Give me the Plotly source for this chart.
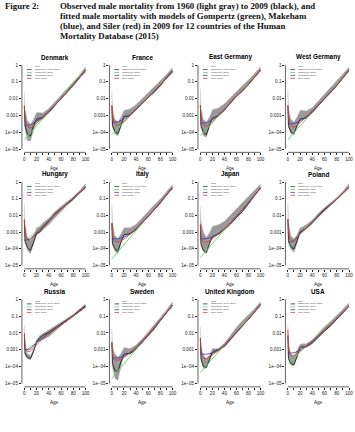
import plotly.graph_objects as go

W, H = 355, 432

# ---------------- data ----------------
COUNTRIES = ["Denmark", "France", "East Germany", "West Germany",
             "Hungary", "Italy", "Japan", "Poland",
             "Russia", "Sweden", "United Kingdom", "USA"]

OBS_AGES = [0, 1, 5, 10, 15, 20, 25, 30, 40, 50, 60, 70, 80, 90, 100]
FIT_AGES = [0, 1, 3, 6, 10, 20, 30, 40, 50, 60, 80, 100]
GOMP_AGES = [0, 100]

Y_TICKS = [1e-5, 1e-4, 1e-3, 1e-2, 1e-1, 1]
Y_TICKTEXT = ["1e\u221205", "1e\u221204", "0.001", "0.01", "0.1", "1"]
X_TICKS = [0, 10, 20, 30, 40, 50, 60, 70, 80, 90, 100]
X_TICKTEXT = ["0", "", "20", "", "40", "", "60", "", "80", "", "100"]

LEGEND_LABELS = ["Observed, 1960\u20132009", "Gompertz, 2009", "Makeham, 2009", "Siler, 2009"]

# Denmark
DK_OBS = [3.5e-3, 2.5e-4, 8e-5, 6e-5, 2.5e-4, 6e-4, 7e-4, 7e-4, 1.5e-3, 4e-3, 1.0e-2, 2.6e-2, 7e-2, 0.19, 0.5]
DK_LO = [3e-3, 1.5e-4, 3e-5, 3e-5, 1.2e-4, 4e-4, 5e-4, 6e-4, 1.4e-3, 3.8e-3, 9.5e-3, 2.5e-2, 6.5e-2, 0.17, 0.35]
DK_HI = [2.5e-2, 2e-3, 5e-4, 3e-4, 6e-4, 1.5e-3, 1.5e-3, 1.4e-3, 2.6e-3, 6.5e-3, 1.6e-2, 4e-2, 9.5e-2, 0.25, 0.8]
DK_GOMP = [3.5e-5, 0.55]
DK_MAK = [2.6e-4, 2.6e-4, 2.6e-4, 2.6e-4, 2.7e-4, 4.5e-4, 8.5e-4, 1.8e-3, 4.2e-3, 1.0e-2, 6e-2, 0.5]
DK_SIL = [4e-3, 1.1e-3, 3.2e-4, 2e-4, 1.8e-4, 3.4e-4, 7.5e-4, 1.7e-3, 4.1e-3, 1.0e-2, 6e-2, 0.5]

# France
FR_OBS = [3.8e-3, 2.5e-4, 1.1e-4, 8e-5, 2.5e-4, 8.5e-4, 9e-4, 1e-3, 2.2e-3, 5.5e-3, 1.2e-2, 2.4e-2, 6e-2, 0.18, 0.45]
FR_LO = [3.5e-3, 2e-4, 8e-5, 6e-5, 2e-4, 7e-4, 8.5e-4, 9.5e-4, 2.1e-3, 5.3e-3, 1.15e-2, 2.3e-2, 5.8e-2, 0.17, 0.38]
FR_HI = [3e-2, 2.5e-3, 6e-4, 4e-4, 8e-4, 2e-3, 2.2e-3, 2.5e-3, 4.5e-3, 1.0e-2, 2.2e-2, 5e-2, 0.11, 0.27, 0.7]
FR_GOMP = [7e-5, 0.4]
FR_MAK = [4e-4, 4e-4, 4e-4, 4e-4, 4.1e-4, 6e-4, 1.1e-3, 2.3e-3, 5e-3, 1.15e-2, 6.5e-2, 0.4]
FR_SIL = [4e-3, 1.2e-3, 4e-4, 2.8e-4, 2.6e-4, 4.5e-4, 1e-3, 2.2e-3, 5e-3, 1.15e-2, 6.5e-2, 0.4]

# East Germany
EG_OBS = [4e-3, 2.5e-4, 1e-4, 7e-5, 2.5e-4, 7e-4, 8e-4, 1e-3, 2e-3, 6e-3, 1.4e-2, 2.8e-2, 7e-2, 0.2, 0.5]
EG_LO = [3.5e-3, 2e-4, 6e-5, 5e-5, 1.8e-4, 6e-4, 7e-4, 9e-4, 1.9e-3, 5.5e-3, 1.3e-2, 2.7e-2, 6.5e-2, 0.18, 0.4]
EG_HI = [4e-2, 2.5e-3, 6e-4, 4e-4, 8e-4, 2.2e-3, 2.5e-3, 2.8e-3, 5e-3, 1.2e-2, 2.8e-2, 6e-2, 0.13, 0.3, 0.8]
EG_GOMP = [6e-5, 0.5]
EG_MAK = [3.5e-4, 3.5e-4, 3.5e-4, 3.5e-4, 3.6e-4, 5.5e-4, 1.1e-3, 2.3e-3, 5.5e-3, 1.35e-2, 7e-2, 0.5]
EG_SIL = [4e-3, 1.2e-3, 3.5e-4, 2.5e-4, 2.3e-4, 4.5e-4, 1e-3, 2.2e-3, 5.4e-3, 1.35e-2, 7e-2, 0.5]

# West Germany
WG_OBS = [3.8e-3, 2.5e-4, 1e-4, 8e-5, 2.5e-4, 6e-4, 6.5e-4, 7e-4, 1.5e-3, 4e-3, 1e-2, 2.3e-2, 6e-2, 0.18, 0.5]
WG_LO = [3.5e-3, 2e-4, 8e-5, 7e-5, 2e-4, 5.5e-4, 6e-4, 6.5e-4, 1.45e-3, 3.9e-3, 9.5e-3, 2.2e-2, 5.8e-2, 0.17, 0.4]
WG_HI = [3.5e-2, 2.5e-3, 6e-4, 4e-4, 8e-4, 2e-3, 2e-3, 1.8e-3, 3e-3, 7.5e-3, 1.9e-2, 4.5e-2, 0.11, 0.27, 0.75]
WG_GOMP = [3.5e-5, 0.5]
WG_MAK = [3.2e-4, 3.2e-4, 3.2e-4, 3.2e-4, 3.3e-4, 4.8e-4, 8.5e-4, 1.8e-3, 4.3e-3, 1.05e-2, 6e-2, 0.5]
WG_SIL = [4e-3, 1.1e-3, 3.5e-4, 2.3e-4, 2e-4, 3.8e-4, 8e-4, 1.7e-3, 4.2e-3, 1.05e-2, 6e-2, 0.5]

# Hungary
HU_OBS = [5e-3, 3e-4, 1.2e-4, 8e-5, 2.5e-4, 8e-4, 1e-3, 1.8e-3, 4.5e-3, 1.3e-2, 2.5e-2, 4.8e-2, 9.5e-2, 0.22, 0.5]
HU_LO = [4.5e-3, 2.5e-4, 8e-5, 5e-5, 1.8e-4, 7e-4, 9e-4, 1.3e-3, 2.8e-3, 7e-3, 1.8e-2, 4e-2, 8.5e-2, 0.2, 0.4]
HU_HI = [5e-2, 3e-3, 5e-4, 3e-4, 6e-4, 1.8e-3, 2.2e-3, 3.5e-3, 7e-3, 1.7e-2, 3.5e-2, 6.5e-2, 0.13, 0.3, 0.8]
HU_GOMP = [2.5e-4, 0.5]
HU_MAK = [3.2e-4, 3.2e-4, 3.3e-4, 3.5e-4, 4e-4, 9e-4, 2.2e-3, 4.9e-3, 1.1e-2, 2.4e-2, 0.11, 0.5]
HU_SIL = [6e-3, 1.5e-3, 5e-4, 3.3e-4, 3.5e-4, 9e-4, 2.2e-3, 4.9e-3, 1.1e-2, 2.4e-2, 0.11, 0.5]

# Italy
IT_OBS = [3.5e-3, 2e-4, 1e-4, 7e-5, 2.5e-4, 7e-4, 7.5e-4, 8e-4, 1.4e-3, 3.5e-3, 8.5e-3, 2e-2, 5.5e-2, 0.17, 0.45]
IT_LO = [3.2e-3, 1.8e-4, 7e-5, 5e-5, 2e-4, 6e-4, 7e-4, 7.5e-4, 1.35e-3, 3.4e-3, 8.2e-3, 1.95e-2, 5.3e-2, 0.16, 0.38]
IT_HI = [5e-2, 4e-3, 6e-4, 4e-4, 8e-4, 1.8e-3, 1.8e-3, 1.8e-3, 3e-3, 7.5e-3, 1.8e-2, 4.3e-2, 0.1, 0.25, 0.7]
IT_GOMP = [2.5e-5, 0.45]
IT_MAK = [4e-4, 4e-4, 4e-4, 4e-4, 4e-4, 5e-4, 8e-4, 1.6e-3, 3.8e-3, 9e-3, 6e-2, 0.45]
IT_SIL = [3.5e-3, 1e-3, 3.5e-4, 2.8e-4, 2.6e-4, 3.8e-4, 7.5e-4, 1.5e-3, 3.7e-3, 9e-3, 6e-2, 0.45]

# Japan
JP_OBS = [2.5e-3, 2e-4, 8e-5, 6e-5, 2e-4, 5.5e-4, 6.5e-4, 7.5e-4, 1.4e-3, 3e-3, 7.5e-3, 1.7e-2, 5e-2, 0.16, 0.45]
JP_LO = [2.2e-3, 1.8e-4, 7e-5, 5e-5, 1.8e-4, 5e-4, 6e-4, 7e-4, 1.3e-3, 2.9e-3, 7.2e-3, 1.65e-2, 4.8e-2, 0.15, 0.38]
JP_HI = [3.5e-2, 5e-3, 1e-3, 5e-4, 9e-4, 2.2e-3, 2.5e-3, 2.8e-3, 4.5e-3, 1e-2, 2.5e-2, 6e-2, 0.14, 0.3, 0.75]
JP_GOMP = [3e-5, 0.45]
JP_MAK = [4e-4, 4e-4, 4e-4, 4e-4, 4e-4, 5e-4, 8.5e-4, 1.6e-3, 3.7e-3, 9e-3, 6e-2, 0.45]
JP_SIL = [3e-3, 9e-4, 3.2e-4, 2.6e-4, 2.5e-4, 4e-4, 8e-4, 1.6e-3, 3.6e-3, 9e-3, 6e-2, 0.45]

# Poland
PL_OBS = [6e-3, 3e-4, 1.3e-4, 1e-4, 3e-4, 1e-3, 1.3e-3, 1.7e-3, 3.5e-3, 1e-2, 2.3e-2, 4.5e-2, 9.5e-2, 0.22, 0.5]
PL_LO = [5.5e-3, 2.5e-4, 9e-5, 6e-5, 2e-4, 8e-4, 1.1e-3, 1.5e-3, 3.2e-3, 8e-3, 1.9e-2, 4e-2, 8.5e-2, 0.2, 0.4]
PL_HI = [6e-2, 4e-3, 6e-4, 4e-4, 7e-4, 1.8e-3, 2.2e-3, 2.8e-3, 5.5e-3, 1.4e-2, 3e-2, 6e-2, 0.12, 0.28, 0.8]
PL_GOMP = [1.5e-4, 0.5]
PL_MAK = [2.5e-4, 2.5e-4, 2.5e-4, 2.6e-4, 3e-4, 8e-4, 1.8e-3, 4e-3, 9e-3, 2e-2, 9.5e-2, 0.5]
PL_SIL = [6e-3, 1.5e-3, 4.5e-4, 3e-4, 3e-4, 8e-4, 1.8e-3, 4e-3, 9e-3, 2e-2, 9.5e-2, 0.5]

# Russia
RU_OBS = [8e-3, 6e-4, 3.5e-4, 3e-4, 8e-4, 3e-3, 5e-3, 7e-3, 1.1e-2, 1.9e-2, 3.3e-2, 6e-2, 0.11, 0.22, 0.4]
RU_LO = [7e-3, 5e-4, 3e-4, 2.6e-4, 7e-4, 2.5e-3, 3.5e-3, 4e-3, 6e-3, 1.2e-2, 2.6e-2, 5.5e-2, 0.1, 0.2, 0.35]
RU_HI = [3e-2, 2.5e-3, 6e-4, 4.5e-4, 1.1e-3, 4e-3, 7e-3, 9e-3, 1.5e-2, 2.6e-2, 4.5e-2, 7.5e-2, 0.13, 0.26, 0.55]
RU_GOMP = [8e-4, 0.35]
RU_MAK = [1e-3, 1e-3, 1e-3, 1.05e-3, 1.15e-3, 2.8e-3, 5.2e-3, 9.5e-3, 1.7e-2, 3e-2, 0.1, 0.35]
RU_SIL = [1e-2, 2.5e-3, 1e-3, 8e-4, 8.5e-4, 2e-3, 4.5e-3, 9e-3, 1.7e-2, 3e-2, 0.1, 0.35]

# Sweden
SE_OBS = [2.7e-3, 1.5e-4, 6e-5, 5e-5, 2e-4, 5.5e-4, 6e-4, 6e-4, 1.1e-3, 2.8e-3, 7e-3, 1.8e-2, 5.5e-2, 0.17, 0.45]
SE_LO = [2.5e-3, 8e-5, 2e-5, 1.5e-5, 1e-4, 4.5e-4, 5.5e-4, 5.5e-4, 1.05e-3, 2.7e-3, 6.8e-3, 1.75e-2, 5.3e-2, 0.15, 0.35]
SE_HI = [2e-2, 1.5e-3, 6e-4, 3.5e-4, 6e-4, 1.4e-3, 1.3e-3, 1.2e-3, 2e-3, 4.5e-3, 1.2e-2, 3.2e-2, 8.5e-2, 0.23, 0.75]
SE_GOMP = [2e-5, 0.45]
SE_MAK = [3.3e-4, 3.3e-4, 3.3e-4, 3.3e-4, 3.3e-4, 4.2e-4, 7e-4, 1.35e-3, 3.2e-3, 8e-3, 5.8e-2, 0.45]
SE_SIL = [3e-3, 8e-4, 3e-4, 2.5e-4, 2.4e-4, 3.5e-4, 6.8e-4, 1.35e-3, 3.2e-3, 8e-3, 5.8e-2, 0.45]

# United Kingdom
UK_OBS = [5e-3, 3e-4, 1e-4, 9e-5, 2.5e-4, 7e-4, 9e-4, 1e-3, 1.6e-3, 4e-3, 1.05e-2, 2.6e-2, 6.5e-2, 0.18, 0.5]
UK_LO = [4.5e-3, 2.5e-4, 8e-5, 8e-5, 2e-4, 6e-4, 7e-4, 8e-4, 1.5e-3, 3.8e-3, 1e-2, 2.5e-2, 6.2e-2, 0.17, 0.4]
UK_HI = [2.5e-2, 1.5e-3, 5e-4, 3e-4, 5e-4, 1.2e-3, 1.2e-3, 1.2e-3, 2.5e-3, 7.5e-3, 2.2e-2, 5.5e-2, 0.12, 0.27, 0.75]
UK_GOMP = [4.5e-5, 0.5]
UK_MAK = [5.5e-4, 5.5e-4, 5.5e-4, 5.5e-4, 5.5e-4, 6.5e-4, 1e-3, 2e-3, 4.5e-3, 1.15e-2, 6.5e-2, 0.5]
UK_SIL = [5e-3, 1.4e-3, 4.5e-4, 3.2e-4, 3e-4, 5e-4, 9.5e-4, 1.9e-3, 4.5e-3, 1.15e-2, 6.5e-2, 0.5]

# USA
US_OBS = [7e-3, 3e-4, 1.5e-4, 1.3e-4, 4e-4, 1.4e-3, 1.5e-3, 1.5e-3, 2.5e-3, 6e-3, 1.3e-2, 2.7e-2, 6.5e-2, 0.17, 0.4]
US_LO = [6.5e-3, 2.8e-4, 1.3e-4, 1.1e-4, 3.5e-4, 1.3e-3, 1.4e-3, 1.4e-3, 2.4e-3, 5.8e-3, 1.25e-2, 2.6e-2, 6.2e-2, 0.16, 0.35]
US_HI = [3e-2, 1.8e-3, 6e-4, 4e-4, 9e-4, 2.2e-3, 2.3e-3, 2.3e-3, 4e-3, 1e-2, 2.4e-2, 5e-2, 0.11, 0.24, 0.6]
US_GOMP = [1.5e-4, 0.4]
US_MAK = [6.5e-4, 6.5e-4, 6.5e-4, 6.5e-4, 6.6e-4, 1e-3, 1.7e-3, 3.3e-3, 7e-3, 1.5e-2, 7e-2, 0.4]
US_SIL = [1.5e-2, 2.5e-3, 6e-4, 4.5e-4, 4.5e-4, 9e-4, 1.7e-3, 3.3e-3, 7e-3, 1.5e-2, 7e-2, 0.4]

PANELS = [
    (DK_OBS, DK_LO, DK_HI, DK_GOMP, DK_MAK, DK_SIL),
    (FR_OBS, FR_LO, FR_HI, FR_GOMP, FR_MAK, FR_SIL),
    (EG_OBS, EG_LO, EG_HI, EG_GOMP, EG_MAK, EG_SIL),
    (WG_OBS, WG_LO, WG_HI, WG_GOMP, WG_MAK, WG_SIL),
    (HU_OBS, HU_LO, HU_HI, HU_GOMP, HU_MAK, HU_SIL),
    (IT_OBS, IT_LO, IT_HI, IT_GOMP, IT_MAK, IT_SIL),
    (JP_OBS, JP_LO, JP_HI, JP_GOMP, JP_MAK, JP_SIL),
    (PL_OBS, PL_LO, PL_HI, PL_GOMP, PL_MAK, PL_SIL),
    (RU_OBS, RU_LO, RU_HI, RU_GOMP, RU_MAK, RU_SIL),
    (SE_OBS, SE_LO, SE_HI, SE_GOMP, SE_MAK, SE_SIL),
    (UK_OBS, UK_LO, UK_HI, UK_GOMP, UK_MAK, UK_SIL),
    (US_OBS, US_LO, US_HI, US_GOMP, US_MAK, US_SIL),
]

# ---------------- styling / layout ----------------
C_GREEN = "#5cd65c"
C_BLUE = "#3a3ab0"
C_RED = "#d03c3c"
C_BAND = "#9a9a9a"
C_BAND_EDGE = "#c4c4c4"
LEG_COLORS = ["#333333", C_GREEN, C_BLUE, C_RED]

COL_X0 = [24.5, 112.5, 201.5, 289.5]     # pixel of age 0
COL_X100 = [86.0, 173.5, 262.0, 351.0]   # pixel of age 100
ROW_Y1 = [65.0, 182.0, 299.3]            # pixel of mortality 1
ROW_Y5 = [149.0, 265.5, 383.5]           # pixel of mortality 1e-05

def px(x):
    return x / W

def py(y):
    return 1 - y / H

fig = go.Figure()
layout = dict(
    width=W, height=H, margin=dict(l=0, r=0, t=0, b=0),
    paper_bgcolor="white", plot_bgcolor="white", showlegend=False,
)
shapes = []
annotations = []

SANS = "Liberation Sans, Arial, sans-serif"
SERIF = "Liberation Serif, Times New Roman, serif"

for i, name in enumerate(COUNTRIES):
    r, c = divmod(i, 4)
    k = "" if i == 0 else str(i + 1)
    xa, ya = "x" + k, "y" + k
    obs, lo, hi, gomp, mak, sil = PANELS[i]

    x0, x100 = COL_X0[c], COL_X100[c]
    y1, y5 = ROW_Y1[r], ROW_Y5[r]
    ppy = (x100 - x0) / 100.0
    ppd = (y5 - y1) / 5.0
    dl, dr = x0 - 4 * ppy, x100 + 4 * ppy
    dt, db = y1 - 0.2 * ppd, y5 + 0.2 * ppd

    layout["xaxis" + k] = dict(
        domain=[px(dl), px(dr)], anchor=ya, range=[-4, 104],
        tickvals=X_TICKS, ticktext=X_TICKTEXT, ticks="outside", ticklen=2,
        tickwidth=0.6, tickcolor="#222", showgrid=False, zeroline=False,
        showline=False, tickfont=dict(family=SANS, size=4.6, color="#222"),
        fixedrange=True,
    )
    layout["yaxis" + k] = dict(
        domain=[py(db), py(dt)], anchor=xa, type="log", range=[-5.2, 0.2],
        tickvals=Y_TICKS, ticktext=Y_TICKTEXT, ticks="outside", ticklen=2,
        tickwidth=0.6, tickcolor="#222", showgrid=False, zeroline=False,
        showline=False, tickfont=dict(family=SANS, size=4.6, color="#222"),
        fixedrange=True,
    )

    # observed band 1960-2009 and 2009 line
    fig.add_trace(go.Scatter(x=OBS_AGES, y=lo, mode="lines", xaxis=xa, yaxis=ya,
                             line=dict(color=C_BAND_EDGE, width=0.5), hoverinfo="skip"))
    fig.add_trace(go.Scatter(x=OBS_AGES, y=hi, mode="lines", xaxis=xa, yaxis=ya,
                             fill="tonexty", fillcolor=C_BAND,
                             line=dict(color=C_BAND_EDGE, width=0.5), hoverinfo="skip"))
    fig.add_trace(go.Scatter(x=OBS_AGES, y=obs, mode="lines", xaxis=xa, yaxis=ya,
                             line=dict(color="#111111", width=0.8)))
    # fitted models
    fig.add_trace(go.Scatter(x=GOMP_AGES, y=gomp, mode="lines", xaxis=xa, yaxis=ya,
                             line=dict(color=C_GREEN, width=0.9)))
    fig.add_trace(go.Scatter(x=FIT_AGES, y=mak, mode="lines", xaxis=xa, yaxis=ya,
                             line=dict(color=C_BLUE, width=0.9, shape="spline", smoothing=0.6)))
    fig.add_trace(go.Scatter(x=FIT_AGES, y=sil, mode="lines", xaxis=xa, yaxis=ya,
                             line=dict(color=C_RED, width=0.9, shape="spline", smoothing=0.6)))

    # axis lines (R style: only between extreme ticks)
    fy0 = 0.2 / 5.4
    fy1 = 5.2 / 5.4
    shapes.append(dict(type="line", xref=xa + " domain", yref=ya + " domain",
                       x0=0, x1=0, y0=fy0, y1=fy1, line=dict(color="#222", width=0.7)))
    fx0 = 4 / 108
    fx1 = 104 / 108
    shapes.append(dict(type="line", xref=xa + " domain", yref=ya + " domain",
                       x0=fx0, x1=fx1, y0=0, y1=0, line=dict(color="#222", width=0.7)))

    # panel title
    annotations.append(dict(text="<b>" + name + "</b>", x=px((x0 + x100) / 2), y=py(y1 - 7.8),
                            xref="paper", yref="paper", showarrow=False,
                            xanchor="center", yanchor="middle",
                            font=dict(family=SANS, size=6.4, color="#000")))
    # x axis title
    annotations.append(dict(text="Age", x=px((x0 + x100) / 2), y=py(y5 + 19.2),
                            xref="paper", yref="paper", showarrow=False,
                            xanchor="center", yanchor="middle",
                            font=dict(family=SANS, size=4.6, color="#222")))

    # legend
    lx_line0, lx_line1, lx_text = x0 + 2.6, x0 + 7.2, x0 + 8.4
    annotations.append(dict(text="Men", x=px(lx_text), y=py(y1 + 1.8),
                            xref="paper", yref="paper", showarrow=False,
                            xanchor="left", yanchor="middle",
                            font=dict(family=SANS, size=2.5, color="#333")))
    for j, lab in enumerate(LEGEND_LABELS):
        yy = y1 + 4.6 + 2.9 * j
        shapes.append(dict(type="line", xref="paper", yref="paper",
                           x0=px(lx_line0), x1=px(lx_line1), y0=py(yy), y1=py(yy),
                           line=dict(color=LEG_COLORS[j], width=0.8)))
        annotations.append(dict(text=lab, x=px(lx_text), y=py(yy),
                                xref="paper", yref="paper", showarrow=False,
                                xanchor="left", yanchor="middle",
                                font=dict(family=SANS, size=2.5, color="#333")))

# figure caption
CAPTION_LINES = [
    "Observed male mortality from 1960 (light gray) to 2009 (black), and",
    "fitted male mortality with models of Gompertz (green), Makeham",
    "(blue), and Siler (red) in 2009 for 12 countries of the Human",
    "Mortality Database (2015)",
]
annotations.append(dict(text="<b>Figure 2:</b>", x=px(3), y=py(6), xref="paper", yref="paper",
                        showarrow=False, xanchor="left", yanchor="middle",
                        font=dict(family=SERIF, size=8.8, color="#111")))
for j, line in enumerate(CAPTION_LINES):
    annotations.append(dict(text="<b>" + line + "</b>", x=px(58), y=py(6 + 10 * j),
                            xref="paper", yref="paper", showarrow=False,
                            xanchor="left", yanchor="middle",
                            font=dict(family=SERIF, size=8.8, color="#111")))

layout["shapes"] = shapes
layout["annotations"] = annotations
fig.update_layout(**layout)
fig.write_html("out.html", config={"displayModeBar": False})
